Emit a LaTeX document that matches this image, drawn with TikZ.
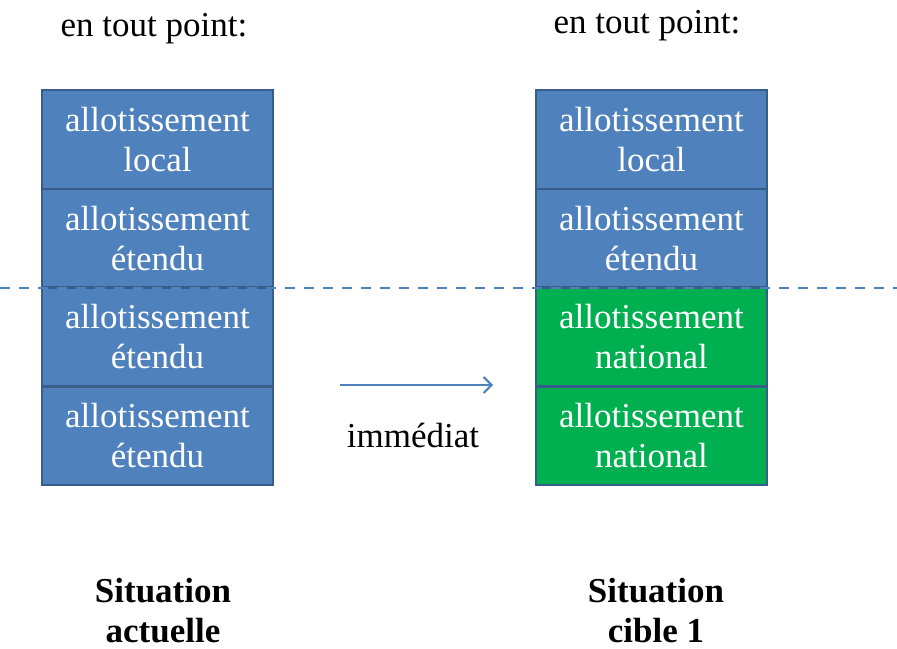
\documentclass[tikz,border=0pt]{standalone}
\usepackage{fontspec}
\setmainfont{Liberation Serif}
\usetikzlibrary{arrows.meta}
\definecolor{cellblue}{HTML}{4F81BD}
\definecolor{cellborder}{HTML}{385D8A}
\definecolor{cellgreen}{HTML}{00B050}
\tikzset{
  cell/.style={draw=cellborder, line width=2.5pt, fill=cellblue, text=white,
    minimum width=231pt, minimum height=98.75pt, inner sep=0pt, align=center,
    font=\fontsize{35}{40}\selectfont},
  natcell/.style={cell, fill=cellgreen},
  label/.style={align=center, font=\fontsize{35}{40}\selectfont},
  caption/.style={label, font=\fontsize{35}{40}\selectfont\bfseries}
}
\begin{document}
\begin{tikzpicture}[x=1pt,y=-1pt]
        \useasboundingbox (0,0) rectangle (897,648);

        % Titres
        \node[label, anchor=base] (ltitle) at (154,36) {en tout point:};
        \node[label, anchor=base] (rtitle) at (647,33) {en tout point:};

        % Situation actuelle
        \node[cell] (l1) at (157.5,139.5) {allotissement\\local};
        \node[cell] (l2) at (157.5,238.25) {allotissement\\étendu};
        \node[cell] (l3) at (157.5,337) {allotissement\\étendu};
        \node[cell] (l4) at (157.5,435.75) {allotissement\\étendu};

        % Situation cible 1
        \node[cell] (r1) at (651.5,139.5) {allotissement\\local};
        \node[cell] (r2) at (651.5,238.25) {allotissement\\étendu};
        \node[natcell] (r3) at (651.5,337) {allotissement\\national};
        \node[natcell] (r4) at (651.5,435.75) {allotissement\\national};

        % Limite
        \coordinate (cutleft) at (0,288);
        \coordinate (cutright) at (897,288);
        \draw[cellblue, line width=2pt, dash pattern=on 10pt off 9pt] (cutleft) -- (cutright);

        % Passage
        \coordinate (arrowstart) at (340,385);
        \coordinate (arrowend) at (493,385);
        \draw[cellblue, line width=2pt, -{Straight Barb[length=8pt,width=16pt]}] (arrowstart) -- (arrowend);
        \node[label, anchor=base] (delay) at (413,447) {immédiat};

        % Legendes
        \node[caption, anchor=base] (lcap) at (163,642) {Situation\\actuelle};
        \node[caption, anchor=base] (rcap) at (656,642) {Situation\\cible 1};
\end{tikzpicture}
\end{document}
